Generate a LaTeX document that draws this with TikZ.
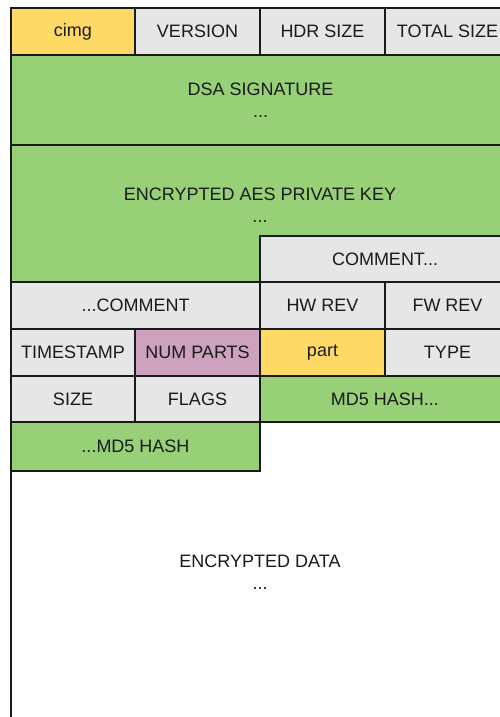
\documentclass[tikz,border=0pt]{standalone}
\usepackage{fontspec}
\setmainfont{Liberation Sans}
\definecolor{cyellow}{HTML}{FFD966}
\definecolor{cgrey}{HTML}{E6E6E6}
\definecolor{cgreen}{HTML}{97D077}
\definecolor{cpink}{HTML}{CDA2BE}
\definecolor{ctext}{HTML}{1A1A1A}
\definecolor{cline}{HTML}{1A1A1A}
\newcommand{\mycell}[7]{\node[cellbox,#6,minimum width={#4-#2},minimum height={#5-#3}] (#1) at ({(#2+#4)/2},{(#3+#5)/2}) {#7};}
\tikzset{
  cellbox/.style={draw=cline,line width=1.2pt,inner sep=0pt,outer sep=0pt,rectangle,text=ctext,align=center,font=\fontsize{18}{22}\selectfont},
  yel/.style={fill=cyellow},
  gry/.style={fill=cgrey},
  grn/.style={fill=cgreen},
  pnk/.style={fill=cpink},
  wht/.style={fill=white},
  lbl/.style={inner sep=0pt,text=ctext,align=center,font=\fontsize{18}{22}\selectfont}
}
\begin{document}
\begin{tikzpicture}[x=1pt,y=-1pt]
\useasboundingbox (0,0) rectangle (500,717);
\clip (0,0) rectangle (500,717);
\fill[white] (0,0) rectangle (500,717);
% encrypted data (extends beyond the visible area)
\mycell{encdata}{11}{422}{510}{722}{wht}{}
\node[lbl] (encdatalabel) at (260,572) {ENCRYPTED DATA\\...};
% header row
\mycell{cimg}{11}{8}{135}{55}{yel}{cimg}
\mycell{version}{135}{8}{260}{55}{gry}{VERSION}
\mycell{hdrsize}{260}{8}{385}{55}{gry}{HDR SIZE}
\mycell{totalsize}{385}{8}{510}{55}{gry}{TOTAL SIZE}
% signature
\mycell{dsa}{11}{55}{510}{145}{grn}{DSA SIGNATURE\\...}
% AES key
\mycell{aes}{11}{145}{510}{282}{grn}{}
\node[lbl] (aeslabel) at (260,205) {ENCRYPTED AES PRIVATE KEY\\...};
\mycell{commenta}{260}{236}{510}{282}{gry}{COMMENT...}
% comment / revisions
\mycell{commentb}{11}{282}{260}{329}{gry}{...COMMENT}
\mycell{hwrev}{260}{282}{385}{329}{gry}{HW REV}
\mycell{fwrev}{385}{282}{510}{329}{gry}{FW REV}
% timestamp row
\mycell{timestamp}{11}{329}{135}{376}{gry}{TIMESTAMP}
\mycell{numparts}{135}{329}{260}{376}{pnk}{NUM PARTS}
\mycell{part}{260}{329}{385}{376}{yel}{part}
\mycell{type}{385}{329}{510}{376}{gry}{TYPE}
% size row
\mycell{size}{11}{376}{135}{422}{gry}{SIZE}
\mycell{flags}{135}{376}{260}{422}{gry}{FLAGS}
\mycell{md5a}{260}{376}{510}{422}{grn}{MD5 HASH...}
\mycell{md5b}{11}{422}{260}{471}{grn}{...MD5 HASH}
\end{tikzpicture}
\end{document}
